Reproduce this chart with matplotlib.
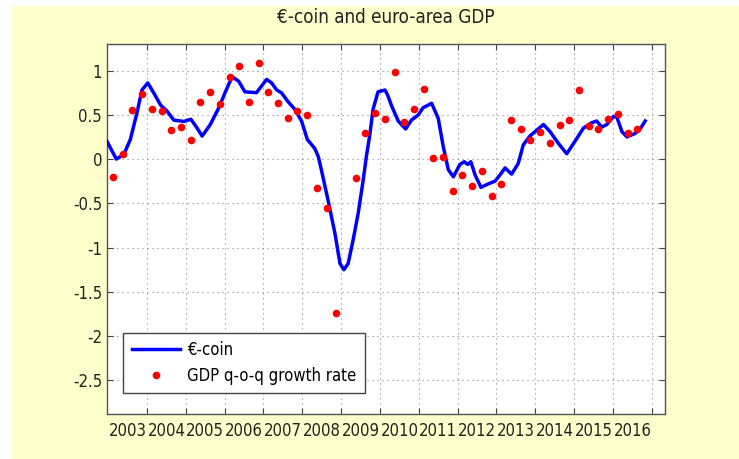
#import modules
import matplotlib
matplotlib.use("Agg")
import matplotlib.pyplot as plt
from matplotlib.patches import Rectangle
import numpy as np

#font: condensed sans, close to the narrow font of the original
plt.rcParams['font.family'] = ['DejaVu Sans']
plt.rcParams['font.stretch'] = 'condensed'

#e-coin (date as fraction of year)
coin_dates = [2002.97, 2003.21, 2003.40, 2003.57, 2003.74, 2003.87, 2004.02, 2004.17, 2004.35,
              2004.52, 2004.69, 2004.95, 2005.13, 2005.29, 2005.42, 2005.63, 2005.85, 2006.02,
              2006.19, 2006.36, 2006.52, 2006.82, 2007.08, 2007.21, 2007.34, 2007.46, 2007.63,
              2007.81, 2007.98, 2008.13, 2008.32, 2008.41, 2008.49, 2008.66, 2008.84, 2008.97,
              2009.07, 2009.18, 2009.31, 2009.44, 2009.57, 2009.65, 2009.74, 2009.82, 2009.95,
              2010.13, 2010.20, 2010.30, 2010.47, 2010.66, 2010.81, 2010.99, 2011.11, 2011.33,
              2011.50, 2011.63, 2011.76, 2011.89, 2012.06, 2012.17, 2012.26, 2012.34, 2012.45,
              2012.60, 2012.79, 2012.96, 2013.09, 2013.22, 2013.39, 2013.56, 2013.69, 2013.86,
              2014.21, 2014.38, 2014.59, 2014.81, 2015.02, 2015.24, 2015.45, 2015.58, 2015.71,
              2015.84, 2016.01, 2016.10, 2016.23, 2016.36, 2016.57, 2016.70, 2016.83]
coin_values = [0.20, 0.00, 0.05, 0.22, 0.52, 0.78, 0.86, 0.75, 0.61,
               0.54, 0.44, 0.425, 0.45, 0.35, 0.26, 0.39, 0.58, 0.76,
               0.93, 0.88, 0.76, 0.75, 0.90, 0.86, 0.78, 0.75, 0.65,
               0.56, 0.43, 0.22, 0.12, 0.03, -0.12, -0.46, -0.84, -1.18,
               -1.25, -1.18, -0.91, -0.61, -0.23, 0.03, 0.28, 0.56, 0.76,
               0.78, 0.72, 0.60, 0.43, 0.34, 0.44, 0.50, 0.58, 0.63,
               0.46, 0.14, -0.12, -0.20, -0.06, -0.03, -0.06, -0.03, -0.18,
               -0.32, -0.28, -0.25, -0.18, -0.10, -0.17, -0.05, 0.16, 0.26,
               0.39, 0.31, 0.18, 0.06, 0.20, 0.35, 0.41, 0.43, 0.36,
               0.39, 0.48, 0.475, 0.31, 0.25, 0.29, 0.34, 0.43]

#gdp q-o-q growth, quarterly from 2003Q1 to 2016Q3 (2009Q1 falls below the axis)
gdp_years = [2003, 2004, 2005, 2006, 2007, 2008, 2009, 2010, 2011, 2012, 2013, 2014, 2015, 2016]
gdp_values = [-0.20, 0.06, 0.55, 0.74,
              0.57, 0.54, 0.33, 0.36,
              0.21, 0.64, 0.76, 0.62,
              0.93, 1.05, 0.645, 1.08,
              0.76, 0.63, 0.46, 0.54,
              0.50, -0.33, -0.555, -1.735,
              -3.0, -0.215, 0.30, 0.52,
              0.455, 0.98, 0.42, 0.565,
              0.795, 0.01, 0.02, -0.36,
              -0.185, -0.30, -0.13, -0.42,
              -0.28, 0.44, 0.34, 0.22,
              0.305, 0.18, 0.39, 0.445,
              0.78, 0.37, 0.34, 0.455,
              0.51, 0.29, 0.34]
#quarter midpoints
gdp_dates = [y + (q + 0.5) / 4 for y in gdp_years for q in range(4)][:len(gdp_values)]

#axis ticks and labels
year_labels = [str(y) for y in range(2003, 2017)]
y_ticks = [1, 0.5, 0, -0.5, -1, -1.5, -2, -2.5]


#Start plotting
fig = plt.figure(figsize=(7.39, 4.59), dpi=100, facecolor="white")
#yellow background panel (thin white margin on top and left), kept behind the axes
fig.patches.append(Rectangle((12 / 739, 0), 1, 453 / 459, transform=fig.transFigure,
                             facecolor="#FFFFCC", edgecolor="none", zorder=-5))

ax = fig.add_axes([107 / 739, 45 / 459, 558 / 739, 370 / 459])
ax.set_facecolor("white")

ax.plot(coin_dates, coin_values, color="#0000FF", linewidth=2.5, label="€-coin", zorder=3)
ax.plot(gdp_dates, gdp_values, linestyle="none", marker="o", markersize=5.5,
        color="#FF0000", markeredgewidth=0, label="GDP q-o-q growth rate", zorder=4)

ax.set_xlim(2002.97, 2017.34)
ax.set_ylim(-2.88, 1.30)

#ticks at year boundaries, labels in the middle of each year
ax.set_xticks(np.arange(2004, 2018))
ax.set_xticklabels([])
ax.set_xticks(np.arange(2003.5, 2017), minor=True)
ax.set_xticklabels(year_labels, minor=True)
ax.set_yticks(y_ticks)
ax.set_yticklabels([f"{t:g}" for t in y_ticks])
ax.tick_params(which="both", direction="in", length=4, width=0.8, top=True, right=True,
               colors="#444444", labelcolor="#222222", labelsize=12)
ax.tick_params(axis="x", which="minor", length=0, pad=6, labelsize=12)

ax.grid(True, which="major", linestyle=(0, (1, 3.5)), color="#888888", linewidth=0.8)
for s in ax.spines.values():
    s.set_color("#555555")
    s.set_linewidth(1.0)

ax.set_title("€-coin and euro-area GDP", fontsize=13.5, color="#222222", pad=15)

#legend box in the lower left corner
leg = ax.legend(loc="upper left", bbox_to_anchor=(0.029, 0.219), borderaxespad=0,
                fontsize=12, numpoints=1, handlelength=2.9, handletextpad=0.45,
                borderpad=0.5, labelspacing=0.45, fancybox=False, framealpha=1,
                edgecolor="#444444")
leg.get_frame().set_linewidth(1.0)

#save the figure as png file
plt.savefig("out.png", dpi=100, facecolor=fig.get_facecolor())
